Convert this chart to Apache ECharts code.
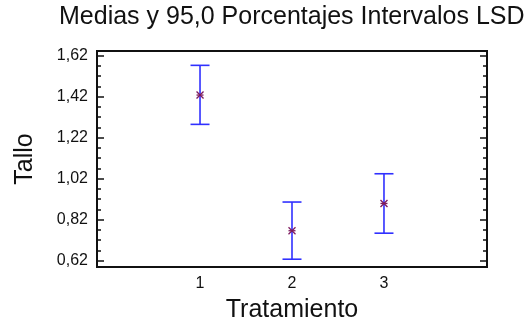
<!DOCTYPE html>
<html>
<head>
<meta charset="utf-8">
<script src="https://cdn.jsdelivr.net/npm/echarts@6/dist/echarts.min.js"></script>
<style>
  html, body { margin: 0; padding: 0; background: #fff; }
  #chart { width: 527px; height: 328px; }
</style>
</head>
<body>
<div id="chart"></div>
<script>
// data
const treatments = [1, 2, 3];
const means = [1.428, 0.766, 0.899];
const lower = [1.285, 0.627, 0.754];
const upper = [1.573, 0.906, 1.044];
const yTicks = [0.62, 0.82, 1.02, 1.22, 1.42, 1.62];
const yMinorTicks = [0.67, 0.72, 0.77, 0.87, 0.92, 0.97, 1.07, 1.12, 1.17, 1.27, 1.32, 1.37, 1.47, 1.52, 1.57];

const FONT = 'Liberation Sans';
const yMin = 0.589, yMax = 1.643;

const chart = echarts.init(document.getElementById('chart'));

const errData = treatments.map((t, i) => [t, means[i], lower[i], upper[i]]);

const renderItem = (params, api) => {
  const x = api.value(0);
  const pMean = api.coord([x, api.value(1)]);
  const pLo = api.coord([x, api.value(2)]);
  const pHi = api.coord([x, api.value(3)]);
  const cap = 9.5;
  const blue = { stroke: '#3030ff', lineWidth: 1.6 };
  const mark = { stroke: '#7d1b5e', lineWidth: 1.3 };
  const r = 3.5;
  return {
    type: 'group',
    children: [
      { type: 'line', shape: { x1: pLo[0], y1: pLo[1], x2: pHi[0], y2: pHi[1] }, style: blue },
      { type: 'line', shape: { x1: pLo[0] - cap, y1: pLo[1], x2: pLo[0] + cap, y2: pLo[1] }, style: blue },
      { type: 'line', shape: { x1: pHi[0] - cap, y1: pHi[1], x2: pHi[0] + cap, y2: pHi[1] }, style: blue },
      { type: 'line', shape: { x1: pMean[0] - r, y1: pMean[1] - r, x2: pMean[0] + r, y2: pMean[1] + r }, style: mark },
      { type: 'line', shape: { x1: pMean[0] - r, y1: pMean[1] + r, x2: pMean[0] + r, y2: pMean[1] - r }, style: mark },
      { type: 'line', shape: { x1: pMean[0] - r, y1: pMean[1], x2: pMean[0] + r, y2: pMean[1] }, style: mark }
    ]
  };
};

const fmt = v => v.toFixed(2).replace('.', ',');

const yBase = {
  type: 'value',
  min: yMin,
  max: yMax,
  splitLine: { show: false },
  axisLine: { show: false, onZero: false }
};

const option = {
  animation: false,
  backgroundColor: '#fff',
  textStyle: { fontFamily: FONT },
  title: {
    text: 'Medias y 95,0 Porcentajes Intervalos LSD',
    left: 54,
    top: 0,
    textStyle: { fontFamily: FONT, fontSize: 25, fontWeight: 'normal', color: '#111' }
  },
  grid: {
    left: 97, top: 51, right: 40, bottom: 61,
    show: true,
    borderColor: '#111',
    borderWidth: 2
  },
  xAxis: {
    type: 'value',
    min: -0.12,
    max: 4.12,
    name: 'Tratamiento',
    nameLocation: 'middle',
    nameGap: 31,
    nameTextStyle: { fontFamily: FONT, fontSize: 25, color: '#111' },
    axisLine: { show: false, onZero: false },
    axisTick: { show: false },
    splitLine: { show: false },
    axisLabel: {
      customValues: treatments,
      fontFamily: FONT, fontSize: 16, color: '#111', margin: 9
    }
  },
  yAxis: [
    Object.assign({}, yBase, {
      position: 'left',
      name: 'Tallo',
      nameLocation: 'middle',
      nameGap: 59,
      nameRotate: 90,
      nameTextStyle: { fontFamily: FONT, fontSize: 25, color: '#111' },
      axisTick: { show: true, inside: true, length: 7, customValues: yTicks, lineStyle: { color: '#111', width: 1.5 } },
      axisLabel: { customValues: yTicks, formatter: fmt, fontFamily: FONT, fontSize: 16, color: '#111', margin: 9 }
    }),
    Object.assign({}, yBase, {
      position: 'left',
      axisTick: { show: true, inside: true, length: 4, customValues: yMinorTicks, lineStyle: { color: '#111', width: 1.5 } },
      axisLabel: { show: false }
    }),
    Object.assign({}, yBase, {
      position: 'right',
      axisTick: { show: true, inside: true, length: 7, customValues: yTicks, lineStyle: { color: '#111', width: 1.5 } },
      axisLabel: { show: false }
    }),
    Object.assign({}, yBase, {
      position: 'right',
      axisTick: { show: true, inside: true, length: 4, customValues: yMinorTicks, lineStyle: { color: '#111', width: 1.5 } },
      axisLabel: { show: false }
    })
  ],
  series: [{
    type: 'custom',
    renderItem: renderItem,
    encode: { x: 0, y: [1, 2, 3] },
    data: errData
  }]
};

chart.setOption(option);
</script>
</body>
</html>
